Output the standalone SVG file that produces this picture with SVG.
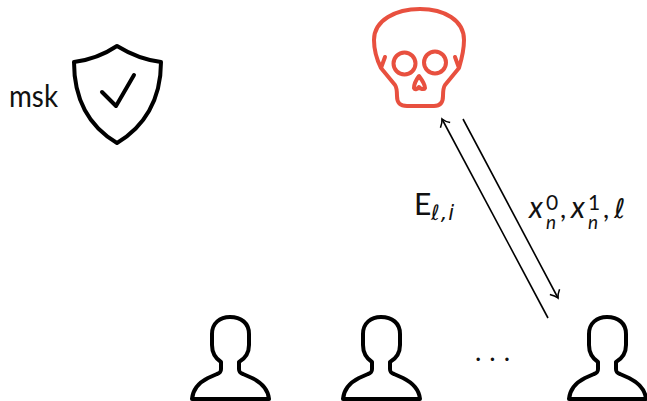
<svg xmlns="http://www.w3.org/2000/svg" width="647" height="401" viewBox="0 0 647 401">
<style>
.t{font-family:"Lato","Open Sans","Liberation Sans",sans-serif;fill:#111}
.i{font-style:italic}
.l{font-family:"DejaVu Sans",sans-serif;font-style:italic}
.k{fill:none;stroke:#000;stroke-width:4;stroke-linejoin:round;stroke-linecap:round}
.r{fill:none;stroke:#e8503f;stroke-width:4;stroke-linejoin:round;stroke-linecap:round}
.c{fill:none;stroke:#000;stroke-width:1.6}
</style>
<defs>
<marker id="a" markerUnits="userSpaceOnUse" markerWidth="16" markerHeight="16" refX="11" refY="8" orient="auto"><path d="M4 2.5Q7.5 6.5 11 8Q7.5 9.5 4 13.500" fill="none" stroke="#000" stroke-width="1.500"/></marker>
<path id="p" d="M192 399C193 388 200 382 208 378L217 374C220 373 221 372 221 369V362C215 358 212 352 212 345V334C212 323 220 317 230 317C241 317 249 323 249 334V345C249 352 246 358 239 362V369C239 372 240 373 243 374L252 378C260 382 268 388 269 399Z"/>
</defs>
<g id="connectors">
<path class="c" d="M548 318L442 119" marker-end="url(#a)"/>
<path class="c" d="M463 119L558 298" marker-end="url(#a)"/>
</g>
<g id="admin">
<text class="t" x="9" y="107" font-size="31" textLength="49" lengthAdjust="spacingAndGlyphs">msk</text>
<path class="k" d="M117 46C105 54 90 60 74 62C74 100 90 127 117 143C144 127 161 100 161 62C144 60 130 54 117 46Z"/>
<path class="k" d="M102 92L116 106L134 75"/>
</g>
<g id="attacker">
<path class="r" d="M385 57L381 68C376 58 374 48 374 40C374 20 396 9 420 9C444 9 464 20 464 40C464 48 462 58 459 68L455 57M381 68L395 85C397 88 397 91 397 96C397 103 400 106 407 106H434C440 106 443 103 443 96C443 91 443 88 445 85L459 68"/>
<ellipse class="r" cx="404.500" cy="63.500" rx="11" ry="11"/>
<ellipse class="r" cx="435" cy="62.500" rx="11" ry="11"/>
<path class="r" d="M419 76C416 80 414 85 414 88C415 90 418 89 419 87C420 89 424 90 425 88C425 85 422 80 419 76Z"/>
</g>
<g id="user1"><use href="#p" class="k"/></g>
<g id="user2"><use href="#p" class="k" x="151"/></g>
<g id="dots">
<text class="t" x="475" y="361" font-size="27" letter-spacing="8">...</text>
</g>
<g id="user3"><use href="#p" class="k" x="377"/></g>
<g id="label-e">
<text class="t" x="414" y="215" font-size="30">E<tspan class="l" x="431" y="220" font-size="21" letter-spacing="1">ℓ,i</tspan></text>
</g>
<g id="label-x">
<text class="t" y="218" font-size="30"><tspan class="i" x="529" y="218">x</tspan><tspan x="546" y="210" font-size="21">0</tspan><tspan class="i" x="546" y="229" font-size="19">n</tspan><tspan x="560" y="218" font-size="27">,</tspan><tspan class="i" x="571" y="218">x</tspan><tspan x="588" y="210" font-size="21">1</tspan><tspan class="i" x="588" y="229" font-size="19">n</tspan><tspan x="603" y="218" font-size="27">,</tspan><tspan class="l" x="614" y="218" font-size="27">ℓ</tspan></text>
</g>
</svg>
